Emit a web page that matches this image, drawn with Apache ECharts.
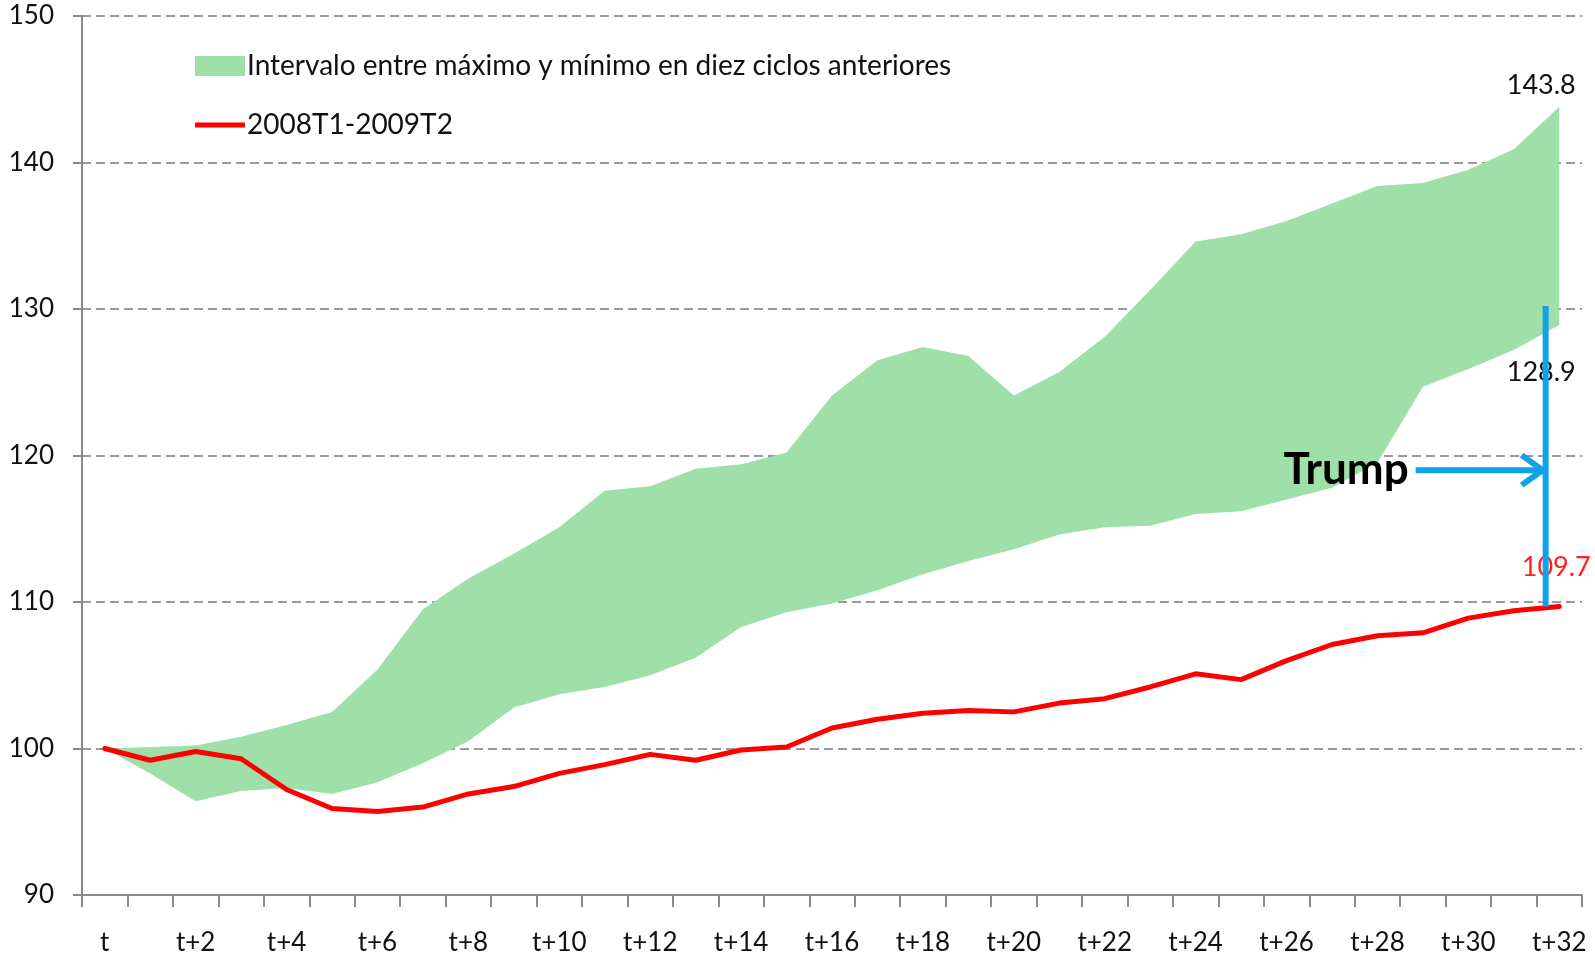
<!DOCTYPE html>
<html>
<head>
<meta charset="utf-8">
<script src="https://cdn.jsdelivr.net/npm/echarts@6/dist/echarts.min.js"></script>
<style>
  html, body { margin: 0; padding: 0; background: #fff; }
  #chart { width: 1595px; height: 959px; }
</style>
</head>
<body>
<div id="chart"></div>
<script>
const categories = ['t', 't+1', 't+2', 't+3', 't+4', 't+5', 't+6', 't+7', 't+8', 't+9', 't+10',
  't+11', 't+12', 't+13', 't+14', 't+15', 't+16', 't+17', 't+18', 't+19', 't+20',
  't+21', 't+22', 't+23', 't+24', 't+25', 't+26', 't+27', 't+28', 't+29', 't+30', 't+31', 't+32']

// maximo / minimo de los diez ciclos anteriores
const bandMax = [100.0, 100.1, 100.2, 100.8, 101.6, 102.5, 105.4, 109.5, 111.6, 113.3, 115.1,
  117.6, 117.9, 119.1, 119.4, 120.2, 124.1, 126.5, 127.4, 126.8, 124.1,
  125.7, 128.1, 131.3, 134.6, 135.1, 136.0, 137.2, 138.4, 138.6, 139.5, 140.9, 143.8]
const bandMin = [100.0, 98.3, 96.4, 97.1, 97.3, 96.9, 97.7, 99.0, 100.5, 102.8, 103.7,
  104.2, 105.0, 106.2, 108.3, 109.3, 109.9, 110.8, 111.9, 112.8, 113.6,
  114.6, 115.1, 115.2, 116.0, 116.2, 117.0, 117.8, 119.5, 124.7, 125.9, 127.2, 128.9]
// ciclo 2008T1-2009T2
const crisis = [100.0, 99.2, 99.8, 99.3, 97.2, 95.9, 95.7, 96.0, 96.9, 97.4, 98.3,
  98.9, 99.6, 99.2, 99.9, 100.1, 101.4, 102.0, 102.4, 102.6, 102.5,
  103.1, 103.4, 104.2, 105.1, 104.7, 106.0, 107.1, 107.7, 107.9, 108.9, 109.4, 109.7]

const yTicks = { min: 90, max: 150, interval: 10 }

const bandName = 'Intervalo entre máximo y mínimo en diez ciclos anteriores'
const crisisName = '2008T1-2009T2'
const green = '#9ee0a8'
const blue = '#12a3e6'
const ink = '#111'
const font = 'Lato'

const chart = echarts.init(document.getElementById('chart'))

chart.setOption({
  animation: false,
  textStyle: { fontFamily: font },
  grid: { left: 82, right: 13, top: 16, bottom: 64 },
  legend: {
    orient: 'vertical',
    left: 190,
    top: 47,
    itemGap: 31,
    itemWidth: 50,
    itemHeight: 20,
    textStyle: { fontSize: 28, color: ink, fontFamily: font, padding: [0, 0, 0, -3] },
    data: [
      { name: bandName, icon: 'rect' },
      { name: crisisName, icon: 'path://M0,0 L50,0 L50,5 L0,5 Z' }
    ]
  },
  xAxis: {
    type: 'category',
    boundaryGap: true,
    data: categories,
    axisLine: { lineStyle: { color: '#8a8a8a', width: 2 } },
    axisTick: { show: true, interval: 0, length: 12, lineStyle: { color: '#8a8a8a', width: 2 } },
    axisLabel: { interval: 1, fontSize: 26, color: ink, margin: 35, fontFamily: font },
    splitLine: { show: false }
  },
  yAxis: {
    type: 'value',
    min: yTicks.min,
    max: yTicks.max,
    interval: yTicks.interval,
    axisLine: { show: true, lineStyle: { color: '#8a8a8a', width: 2 } },
    axisTick: { show: true, length: 9, lineStyle: { color: '#8a8a8a', width: 2 } },
    axisLabel: { fontSize: 26, color: ink, margin: 28, fontFamily: font },
    splitLine: { lineStyle: { color: '#9a9a9a', width: 2, type: [9, 5] } }
  },
  series: [
    {
      name: 'min',
      type: 'line',
      stack: 'band',
      symbol: 'none',
      data: bandMin,
      lineStyle: { opacity: 0 },
      silent: true
    },
    {
      name: bandName,
      type: 'line',
      stack: 'band',
      symbol: 'none',
      data: bandMax.map((v, i) => +(v - bandMin[i]).toFixed(2)),
      lineStyle: { width: 0, color: green },
      itemStyle: { color: green },
      areaStyle: { color: green, opacity: 1 }
    },
    {
      name: crisisName,
      type: 'line',
      symbol: 'none',
      data: crisis,
      itemStyle: { color: '#ff0000' },
      lineStyle: { color: '#ff0000', width: 5, cap: 'round', join: 'round' },
      z: 5
    }
  ]
})

// anotaciones: posiciones a partir de las escalas del grafico
const last = categories.length - 1
const px = (i, v) => {
  const a = chart.convertToPixel({ xAxisIndex: 0, yAxisIndex: 0 }, [Math.floor(i), v])
  const b = chart.convertToPixel({ xAxisIndex: 0, yAxisIndex: 0 }, [Math.ceil(i), v])
  const f = i - Math.floor(i)
  return [a[0] + (b[0] - a[0]) * f, a[1]]
}

const pMax = px(last, bandMax[last])
const pMin = px(last, bandMin[last])
const pRed = px(last, crisis[last])
const lineX = px(31.7, 0)[0]
const lineTop = px(31.7, 130)[1]
const arrowY = px(31.7, 119)[1]

const label = (text, x, y, color, size, weight) => ({
  type: 'text',
  x: x,
  y: y,
  z: 10,
  style: {
    text: text,
    fill: color,
    font: (weight || 'normal') + ' ' + size + 'px ' + font,
    align: 'center',
    verticalAlign: 'middle'
  }
})

chart.setOption({
  graphic: [
    label(bandMax[last].toFixed(1), pMax[0] - 18, pMax[1] - 22, ink, 27),
    label(bandMin[last].toFixed(1), pMin[0] - 18, pMin[1] + 47, ink, 27),
    label(crisis[last].toFixed(1), pRed[0] - 3, pRed[1] - 39, '#ff2020', 27),
    {
      type: 'text',
      x: lineX - 137,
      y: arrowY,
      z: 10,
      style: {
        text: 'Trump',
        fill: '#000',
        font: 'bold 44px ' + font,
        align: 'right',
        verticalAlign: 'middle'
      }
    },
    {
      type: 'line',
      z: 11,
      shape: { x1: lineX - 130, y1: arrowY, x2: lineX - 3, y2: arrowY },
      style: { stroke: blue, lineWidth: 6 }
    },
    {
      type: 'polyline',
      z: 11,
      shape: { points: [[lineX - 24, arrowY - 15], [lineX - 3, arrowY], [lineX - 24, arrowY + 15]] },
      style: { stroke: blue, lineWidth: 6, fill: null }
    },
    {
      type: 'line',
      z: 11,
      shape: { x1: lineX, y1: lineTop - 3, x2: lineX, y2: pRed[1] },
      style: { stroke: blue, lineWidth: 6 }
    }
  ]
})
</script>
</body>
</html>
